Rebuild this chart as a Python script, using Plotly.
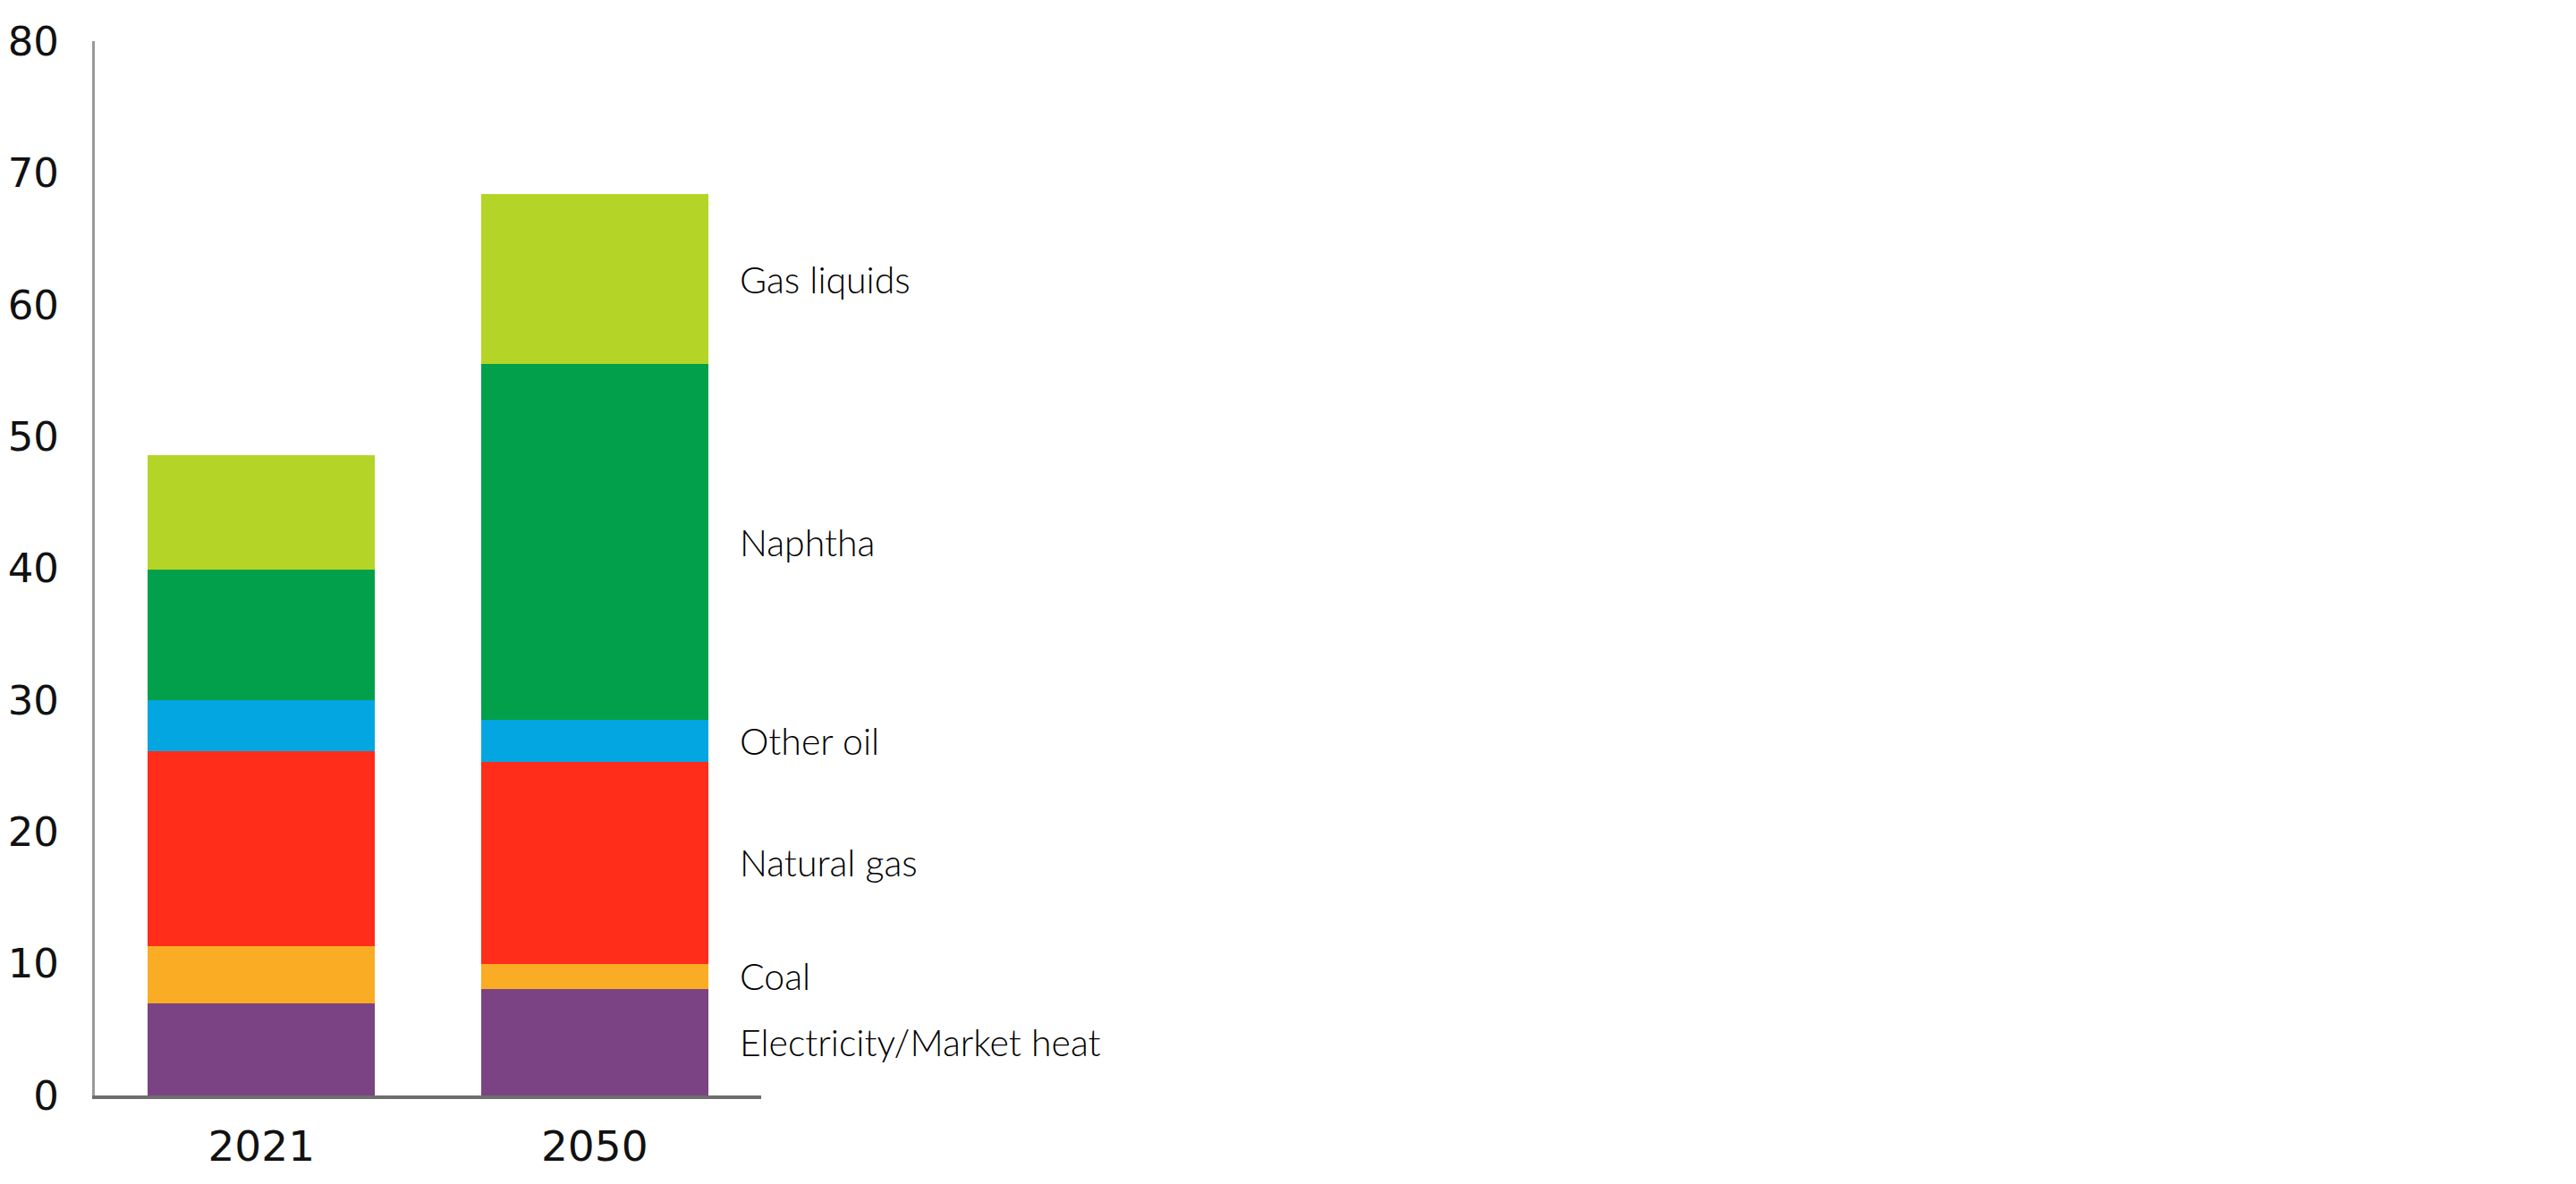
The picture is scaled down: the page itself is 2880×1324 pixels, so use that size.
import plotly.graph_objects as go

years = ["2021", "2050"]
series_names = ["Electricity/Market heat", "Coal", "Natural gas", "Other oil", "Naphtha", "Gas liquids"]
elec = [7.0, 8.1]
coal = [4.3, 1.9]
natural_gas = [14.8, 15.3]
other_oil = [3.9, 3.2]
naphtha = [9.9, 27.0]
gas_liquids = [8.7, 12.9]
y_ticks = [0, 10, 20, 30, 40, 50, 60, 70, 80]

colors = ["#7B4384", "#FAAC24", "#FF2D1A", "#03A6E1", "#02A04B", "#B4D527"]
series_values = [elec, coal, natural_gas, other_oil, naphtha, gas_liquids]

fig = go.Figure()
for name, vals, col in zip(series_names, series_values, colors):
    fig.add_trace(go.Bar(x=years, y=vals, name=name, marker=dict(color=col, line=dict(width=0)),
                         showlegend=False))

# labels at the middle of each 2050 segment
cum = 0
for name, vals in zip(series_names, series_values):
    mid = cum + vals[1] / 2
    cum += vals[1]
    fig.add_annotation(x=0.965, xref="paper", y=mid, yref="y", text=name, showarrow=False,
                       xanchor="left", yanchor="middle",
                       font=dict(family="Lato", size=41, color="#000000", weight=300))

fig.update_layout(
    barmode="stack",
    bargap=0.318,
    width=2880, height=1324,
    margin=dict(l=98, r=2037, t=38, b=107),
    paper_bgcolor="white", plot_bgcolor="white",
    font=dict(family="DejaVu Sans", size=46, color="#111111"),
)
fig.update_xaxes(showline=True, linecolor="#6e6e6e", linewidth=4, showgrid=False, ticks="",
                 ticklabelstandoff=13, tickfont=dict(size=47), automargin=False)
fig.update_yaxes(range=[0, 80], tickvals=y_ticks, showline=True, linecolor="#9a9a9a", linewidth=3,
                 showgrid=False, zeroline=False, ticks="", ticklabelstandoff=28,
                 tickfont=dict(size=45), automargin=False)

fig.write_html("out.html")
